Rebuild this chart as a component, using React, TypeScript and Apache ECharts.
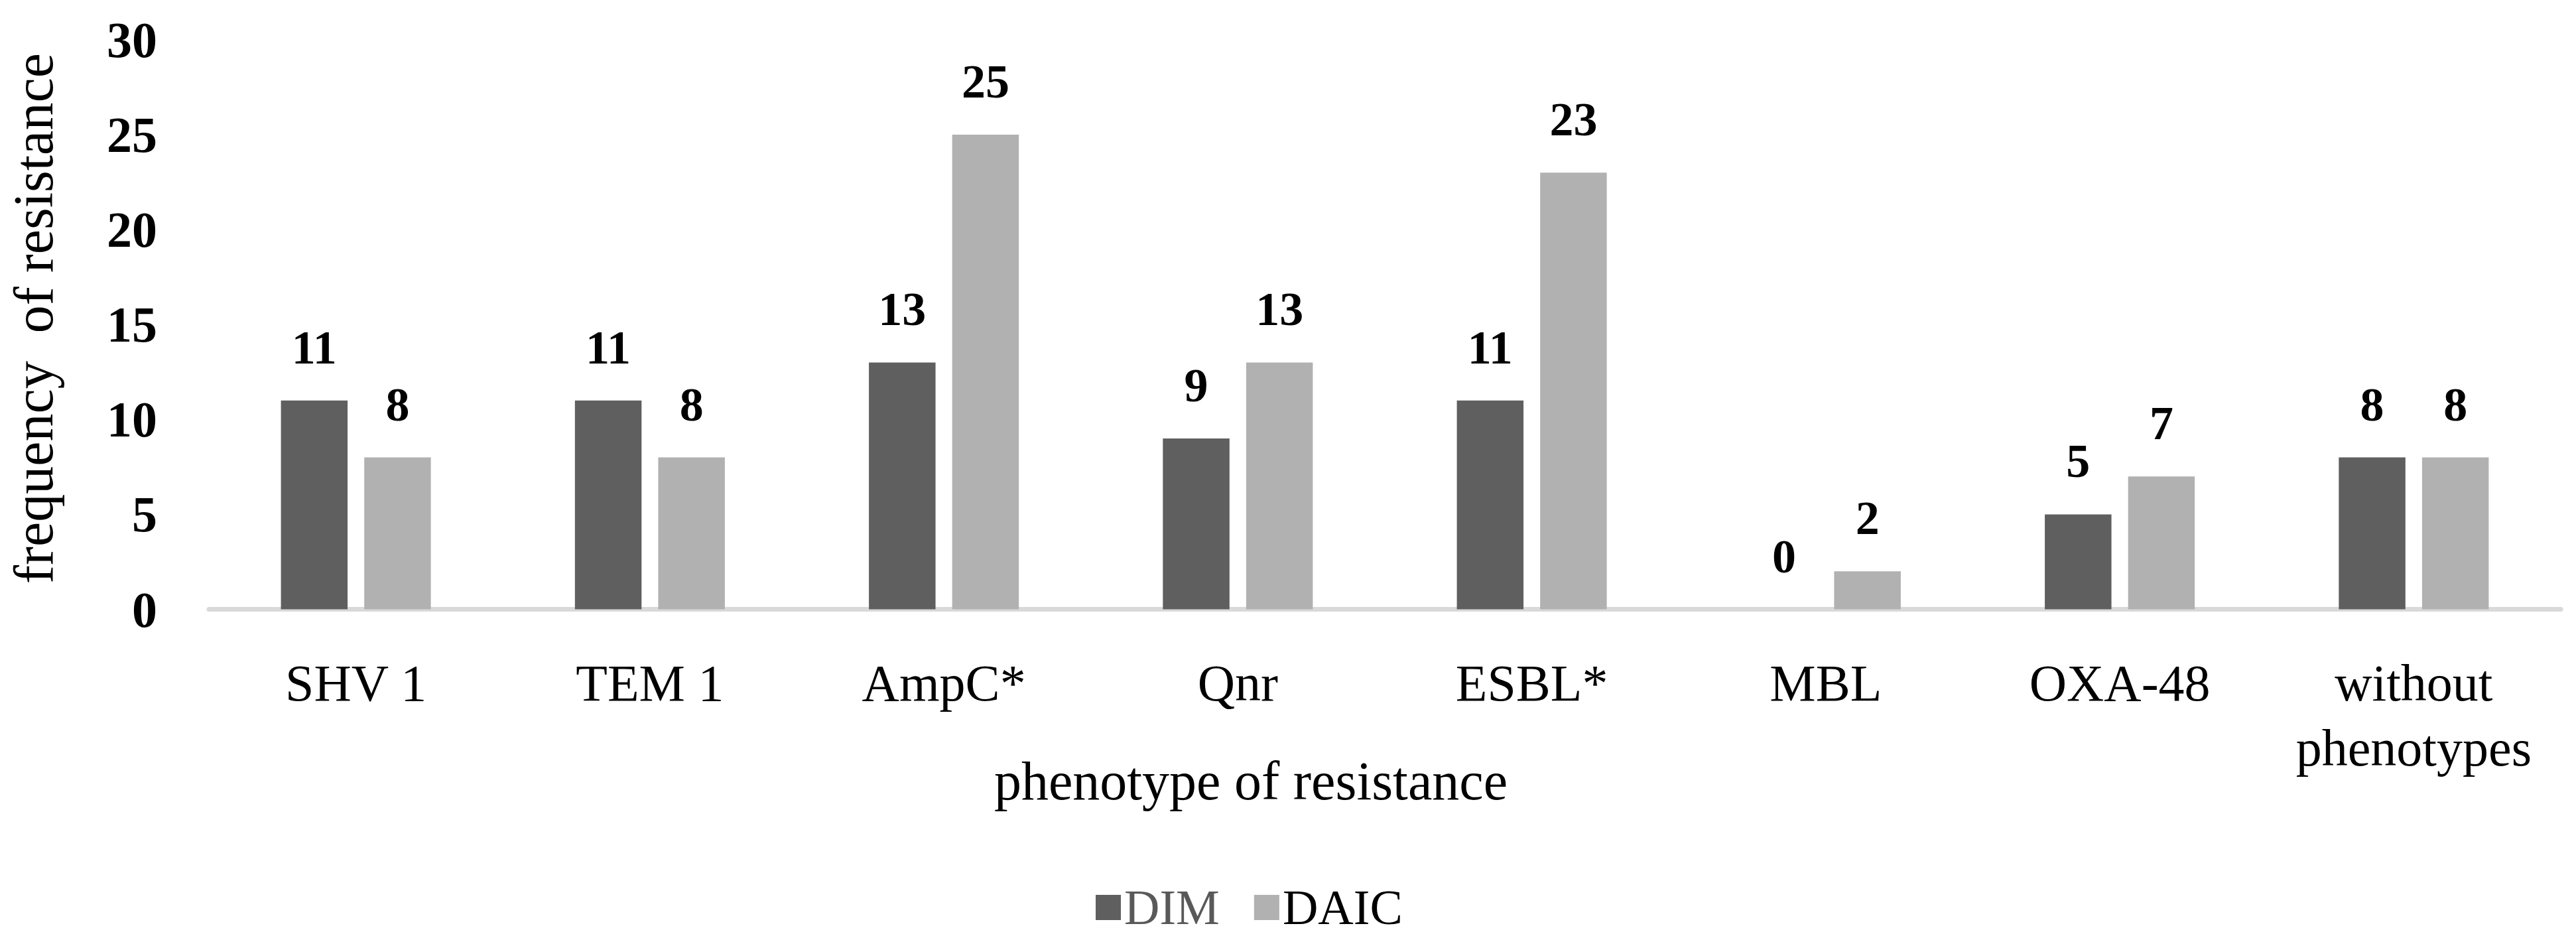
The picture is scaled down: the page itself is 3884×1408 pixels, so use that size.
import React, { useEffect, useRef } from "react";
import * as echarts from "echarts";

const categories = ["SHV 1", "TEM 1", "AmpC*", "Qnr", "ESBL*", "MBL", "OXA-48", "without\nphenotypes"];
const dimValues = [11, 11, 13, 9, 11, 0, 5, 8];
const daicValues = [8, 8, 25, 13, 23, 2, 7, 8];
const seriesNames = ["DIM", "DAIC"];
const yAxisTitle = "frequency  of resistance";
const xAxisTitle = "phenotype of resistance";

const FONT = "'Liberation Serif', 'Times New Roman', serif";

export default function App() {
  const ref = useRef<HTMLDivElement>(null);
  useEffect(() => {
    if (!ref.current) return;
    const chart = echarts.init(ref.current, null, { renderer: "svg" });
    const valueLabel = {
      show: true,
      position: "top",
      distance: 44,
      fontFamily: FONT,
      fontSize: 72,
      fontWeight: "bold",
      color: "#000",
    };
    chart.setOption({
      animation: false,
      backgroundColor: "#fff",
      textStyle: { fontFamily: FONT },
      grid: { left: 315, right: 23, top: 60, bottom: 489.5, containLabel: false },
      legend: {
        left: 1647,
        top: 1326,
        icon: "rect",
        itemWidth: 38,
        itemHeight: 38,
        itemGap: 52,
        textStyle: { fontFamily: FONT, fontSize: 74 },
        data: [
          { name: seriesNames[0], textStyle: { color: "#595959" } },
          { name: seriesNames[1], textStyle: { color: "#000000" } },
        ],
      },
      xAxis: {
        type: "category",
        data: categories,
        axisLine: { show: true, lineStyle: { color: "#d9d9d9", width: 7 } },
        axisTick: { show: false },
        axisLabel: {
          interval: 0,
          margin: 62,
          fontFamily: FONT,
          fontSize: 78,
          lineHeight: 98,
          color: "#000",
        },
        splitLine: { show: false },
      },
      yAxis: {
        type: "value",
        min: 0,
        max: 30,
        interval: 5,
        axisLine: { show: false },
        axisTick: { show: false },
        splitLine: { show: false },
        axisLabel: {
          margin: 78,
          fontFamily: FONT,
          fontSize: 76,
          fontWeight: "bold",
          color: "#000",
        },
      },
      graphic: [
        {
          type: "text",
          x: 50,
          y: 480,
          rotation: Math.PI / 2,
          style: {
            text: yAxisTitle,
            fontFamily: FONT,
            fontSize: 84,
            fill: "#000",
            align: "center",
            verticalAlign: "middle",
          },
        },
        {
          type: "text",
          x: 1886,
          y: 1177,
          style: {
            text: xAxisTitle,
            fontFamily: FONT,
            fontSize: 82,
            fill: "#000",
            align: "center",
            verticalAlign: "middle",
          },
        },
      ],
      series: [
        {
          name: seriesNames[0],
          type: "bar",
          data: dimValues,
          barGap: "25%",
          barCategoryGap: "49%",
          itemStyle: { color: "#5f5f5f" },
          label: valueLabel,
        },
        {
          name: seriesNames[1],
          type: "bar",
          data: daicValues,
          barGap: "25%",
          barCategoryGap: "49%",
          itemStyle: { color: "#b1b1b1" },
          label: valueLabel,
        },
      ],
    });
    return () => chart.dispose();
  }, []);
  return (
    <div
      ref={ref}
      style={{ position: "fixed", left: 0, top: 0, width: 3884, height: 1408, background: "#fff" }}
    />
  );
}
